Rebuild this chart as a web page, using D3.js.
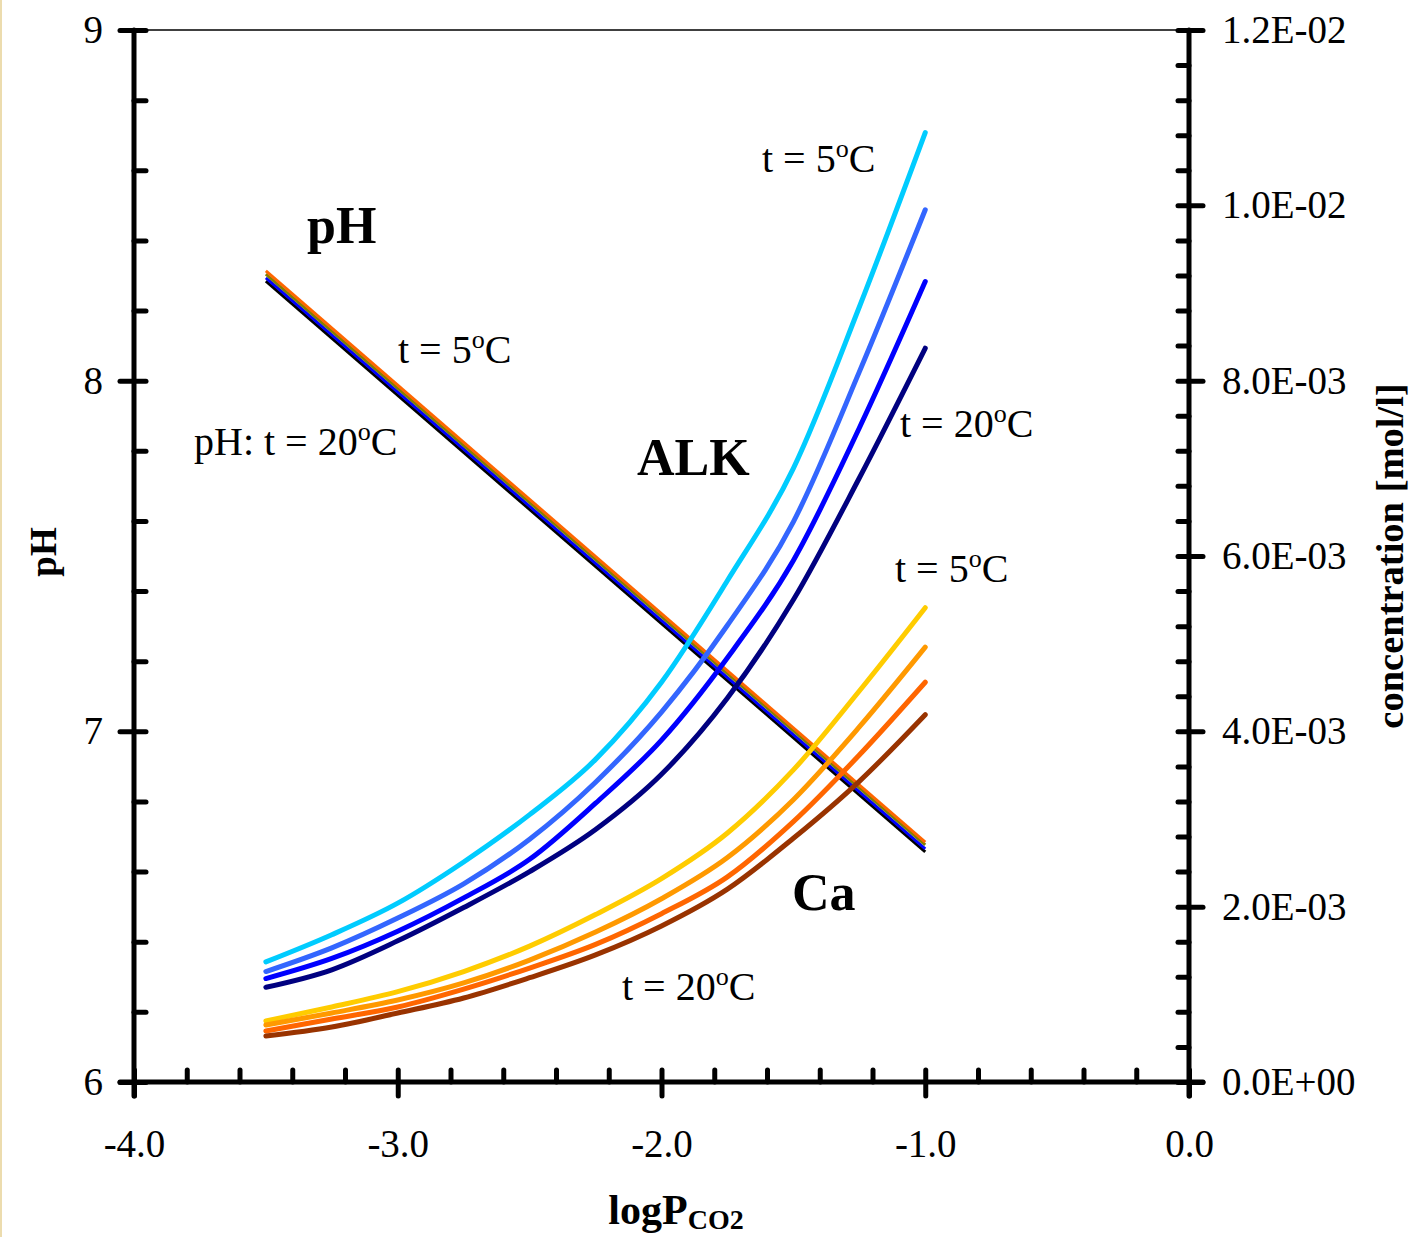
<!DOCTYPE html>
<html>
<head>
<meta charset="utf-8">
<script src="https://cdn.jsdelivr.net/npm/d3@7"></script>
<style>
	body { margin: 0; background: #fff; }
	svg { display: block; }
	text { font-family: "Liberation Serif", "Times New Roman", serif; fill: #000; }
</style>
</head>
<body>
<div class="vis"></div>
<script>
// values
var logP = [-3.5, -3.25, -3.0, -2.75, -2.5, -2.25, -2.0, -1.75, -1.5, -1.25, -1.0];

// pH lines are straight: ends only, t = 5, 10, 15, 20 oC
var phLogP = [-3.5, -1.0];
var ph5  = [8.313, 6.684];
var ph10 = [8.304, 6.676];
var ph15 = [8.293, 6.665];
var ph20 = [8.284, 6.656];

// alkalinity [mol/l] (right axis)
var alk5  = [1.37e-3, 1.68e-3, 2.04e-3, 2.51e-3, 3.05e-3, 3.68e-3, 4.56e-3, 5.72e-3, 7.00e-3, 8.84e-3, 1.083e-2];
var alk10 = [1.26e-3, 1.53e-3, 1.87e-3, 2.26e-3, 2.77e-3, 3.42e-3, 4.22e-3, 5.21e-3, 6.39e-3, 8.10e-3, 9.95e-3];
var alk15 = [1.18e-3, 1.41e-3, 1.72e-3, 2.10e-3, 2.54e-3, 3.18e-3, 3.90e-3, 4.84e-3, 5.95e-3, 7.46e-3, 9.13e-3];
var alk20 = [1.08e-3, 1.28e-3, 1.61e-3, 1.99e-3, 2.40e-3, 2.88e-3, 3.51e-3, 4.38e-3, 5.50e-3, 6.89e-3, 8.37e-3];

// calcium [mol/l] (right axis)
var ca5  = [6.96e-4, 8.56e-4, 1.03e-3, 1.26e-3, 1.55e-3, 1.91e-3, 2.32e-3, 2.84e-3, 3.56e-3, 4.46e-3, 5.41e-3];
var ca10 = [6.50e-4, 7.87e-4, 9.35e-4, 1.13e-3, 1.39e-3, 1.71e-3, 2.09e-3, 2.56e-3, 3.22e-3, 4.05e-3, 4.96e-3];
var ca15 = [5.82e-4, 7.19e-4, 8.56e-4, 1.06e-3, 1.30e-3, 1.57e-3, 1.92e-3, 2.34e-3, 2.97e-3, 3.73e-3, 4.56e-3];
var ca20 = [5.25e-4, 6.27e-4, 7.87e-4, 9.58e-4, 1.19e-3, 1.45e-3, 1.78e-3, 2.20e-3, 2.78e-3, 3.43e-3, 4.19e-3];

var xTicks = [-4, -3, -2, -1, 0];
var phTicks = [6, 7, 8, 9];
var concTicks = [0, 0.002, 0.004, 0.006, 0.008, 0.010, 0.012];

var phColors = ['#000000', '#0000ff', '#808000', '#ff6600'];
var alkColors = ['#00ccff', '#3366ff', '#0000ff', '#000080'];
var caColors = ['#ffcc00', '#ff9900', '#ff6600', '#993300'];

var W = 1411, H = 1237;

var svg = d3.select('.vis').append('svg')
	.attr('width', W)
	.attr('height', H);

// thin tan strip on the left edge of the original
svg.append('rect')
	.attr('x', 0).attr('y', 0)
	.attr('width', 2).attr('height', H)
	.attr('fill', '#ecdcae');

var x = d3.scaleLinear().domain([-4, 0]).range([134, 1189]);
var yPh = d3.scaleLinear().domain([6, 9]).range([1082, 30]);
var yConc = d3.scaleLinear().domain([0, 0.012]).range([1082, 30]);

function expFormat(d) {
	var parts = d.toExponential(1).split('e');
	var e = +parts[1];
	var digits = (Math.abs(e) < 10 ? '0' : '') + Math.abs(e);
	return parts[0] + 'E' + (e < 0 ? '-' : '+') + digits;
}

// top frame line
svg.append('line')
	.attr('x1', x(-4)).attr('x2', x(0))
	.attr('y1', yPh(9)).attr('y2', yPh(9))
	.attr('stroke', '#000')
	.attr('stroke-width', 1.5);

// data lines
var straight = d3.line()
	.x(function(d) { return x(d[0]); })
	.y(function(d) { return d[1]; });

var smooth = d3.line()
	.x(function(d) { return x(d[0]); })
	.y(function(d) { return d[1]; })
	.curve(d3.curveMonotoneX);

function pairs(xs, values, scale) {
	return xs.map(function(p, i) { return [p, scale(values[i])]; });
}

[ph20, ph15, ph10, ph5].forEach(function(s, i) {
	svg.append('path')
		.attr('d', straight(pairs(phLogP, s, yPh)))
		.attr('fill', 'none')
		.attr('stroke', phColors[i])
		.attr('stroke-width', 3);
});

function curves(series, colors) {
	series.forEach(function(s, i) {
		svg.append('path')
			.attr('d', smooth(pairs(logP, s, yConc)))
			.attr('fill', 'none')
			.attr('stroke', colors[i])
			.attr('stroke-width', 5)
			.attr('stroke-linecap', 'round')
			.attr('stroke-linejoin', 'round');
	});
}

curves([alk5, alk10, alk15, alk20], alkColors);
curves([ca5, ca10, ca15, ca20], caColors);

// axes: inner (minor + inner half of major) and outer (major + labels)
function styleAxis(g, labels) {
	g.select('.domain').remove();
	g.selectAll('.tick line')
		.attr('stroke', '#000')
		.attr('stroke-width', 5)
		.attr('stroke-linecap', 'round');
	g.selectAll('.tick text')
		.style('font-size', '39px')
		.style('font-family', '"Liberation Serif", "Times New Roman", serif');
	if (!labels) g.selectAll('.tick text').remove();
}

svg.append('g')
	.attr('transform', 'translate(0,' + yPh(6) + ')')
	.call(d3.axisBottom(x).tickValues(d3.range(-4, 0.001, 0.2)).tickSize(-12))
	.call(styleAxis, false);
svg.append('g')
	.attr('transform', 'translate(0,' + yPh(6) + ')')
	.call(d3.axisBottom(x).tickValues(xTicks).tickSize(14).tickPadding(33)
		.tickFormat(function(d) { return d.toFixed(1); }))
	.call(styleAxis, true);

svg.append('g')
	.attr('transform', 'translate(' + x(-4) + ',0)')
	.call(d3.axisLeft(yPh).tickValues(d3.range(6, 9.001, 0.2)).tickSize(-12))
	.call(styleAxis, false);
svg.append('g')
	.attr('transform', 'translate(' + x(-4) + ',0)')
	.call(d3.axisLeft(yPh).tickValues(phTicks).tickSize(14).tickPadding(17)
		.tickFormat(d3.format('d')))
	.call(styleAxis, true);

svg.append('g')
	.attr('transform', 'translate(' + x(0) + ',0)')
	.call(d3.axisRight(yConc).tickValues(d3.range(0, 0.01201, 0.0004)).tickSize(-11))
	.call(styleAxis, false);
svg.append('g')
	.attr('transform', 'translate(' + x(0) + ',0)')
	.call(d3.axisRight(yConc).tickValues(concTicks).tickSize(14).tickPadding(19)
		.tickFormat(expFormat))
	.call(styleAxis, true);

// thick axis lines
[[x(-4) - 14, yPh(6), x(0) + 14, yPh(6)],
 [x(-4), yPh(9), x(-4), yPh(6) + 14],
 [x(0), yPh(9), x(0), yPh(6) + 14]].forEach(function(l) {
	svg.append('line')
		.attr('x1', l[0]).attr('y1', l[1])
		.attr('x2', l[2]).attr('y2', l[3])
		.attr('stroke', '#000')
		.attr('stroke-width', 5)
		.attr('stroke-linecap', 'round');
});

// axis titles
svg.append('text')
	.attr('transform', 'translate(56,552) rotate(-90)')
	.attr('text-anchor', 'middle')
	.style('font-size', '37px')
	.style('font-weight', 'bold')
	.text('pH');

svg.append('text')
	.attr('transform', 'translate(1403,556) rotate(-90)')
	.attr('text-anchor', 'middle')
	.style('font-size', '38.5px')
	.style('font-weight', 'bold')
	.text('concentration [mol/l]');

var xt = svg.append('text')
	.attr('x', 676).attr('y', 1224)
	.attr('text-anchor', 'middle')
	.style('font-size', '42px')
	.style('font-weight', 'bold');
xt.append('tspan').text('logP');
xt.append('tspan').attr('dy', 5).style('font-size', '28px').text('CO2');

// labels on the plot
function tempLabel(px, py, prefix, temp) {
	var t = svg.append('text')
		.attr('x', px).attr('y', py)
		.style('font-size', '40px');
	t.append('tspan').text(prefix + 't = ' + temp);
	t.append('tspan').attr('dy', -15).style('font-size', '26px').text('o');
	t.append('tspan').attr('dy', 15).text('C');
}

function boldLabel(px, py, s) {
	svg.append('text')
		.attr('x', px).attr('y', py)
		.style('font-size', '52px')
		.style('font-weight', 'bold')
		.text(s);
}

boldLabel(307, 243, 'pH');
boldLabel(637, 475, 'ALK');
boldLabel(792, 910, 'Ca');

tempLabel(398, 363, '', '5');
tempLabel(194, 455, 'pH: ', '20');
tempLabel(762, 172, '', '5');
tempLabel(900, 437, '', '20');
tempLabel(895, 582, '', '5');
tempLabel(622, 1000, '', '20');
</script>
</body>
</html>
